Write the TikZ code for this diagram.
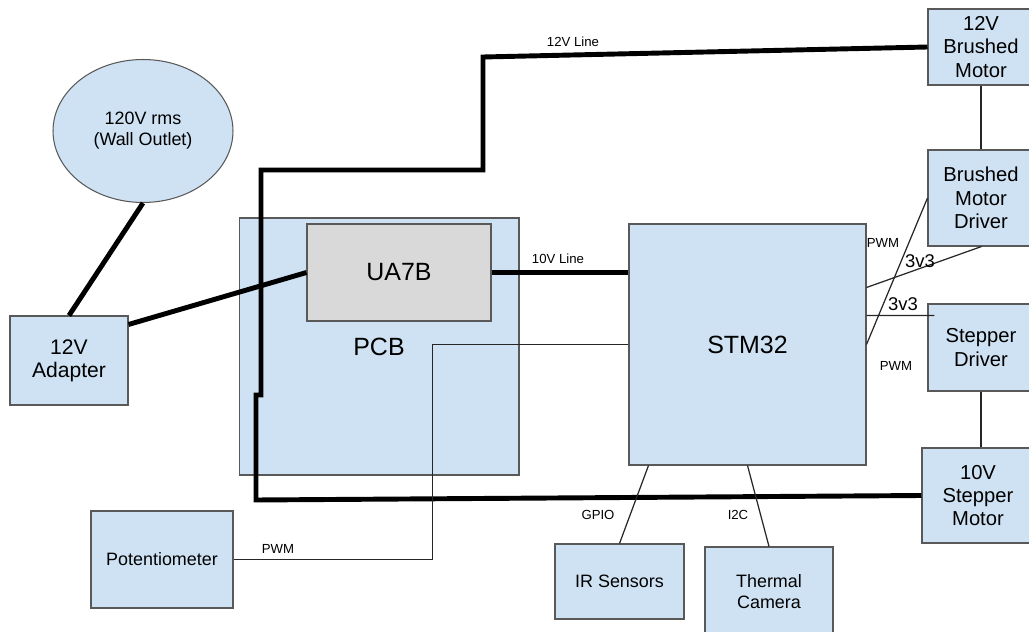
\documentclass[tikz,border=0pt]{standalone}
\usepackage{fontspec}
\setmainfont{Liberation Sans}
\usetikzlibrary{shapes.geometric,calc}
\definecolor{boxblue}{RGB}{207,226,243}
\definecolor{chipgray}{RGB}{217,217,217}
\definecolor{edgegray}{RGB}{89,89,89}

\begin{document}
\begin{tikzpicture}[x=0.02cm,y=-0.02cm,
  blk/.style={draw=edgegray,fill=boxblue,line width=0.6pt,align=center,inner sep=0pt},
  power/.style={line width=2.8pt},
  sig/.style={line width=0.7pt,black!85},
  tag/.style={font=\fontsize{7.5}{9}\selectfont},
  big/.style={font=\fontsize{14.2}{17}\selectfont},
  mid/.style={font=\fontsize{11.5}{13.3}\selectfont},
  small/.style={font=\fontsize{10.2}{12}\selectfont}]
  \useasboundingbox (0,0) rectangle (1029,632);
  \clip (0,0) rectangle (1029,632);
  % Power supply side
  \node[blk,ellipse,small,minimum width=3.6cm,minimum height=2.86cm] (outlet) at (143,131) {120V rms\\(Wall Outlet)};
  \node[blk,font=\fontsize{12}{13}\selectfont,minimum width=2.36cm,minimum height=1.78cm] (adapter) at (69,360.5) {12V\\Adapter};
  \node[blk,big,minimum width=5.6cm,minimum height=5.14cm] (pcb) at (379,346.5) {PCB};
  \node[blk,big,fill=chipgray,minimum width=3.68cm,minimum height=1.94cm] (ua7b) at (399,272.5) {UA7B};
  % Controller and peripherals
  \node[blk,big,minimum width=4.74cm,minimum height=4.82cm] (stm) at (747.5,344.5) {STM32};
  \node[blk,small,minimum width=2.84cm,minimum height=1.94cm] (pot) at (162,559.5) {Potentiometer};
  \node[blk,small,minimum width=2.58cm,minimum height=1.5cm] (ir) at (619.5,581.5) {IR Sensors};
  \node[blk,small,minimum width=2.56cm,minimum height=1.8cm] (cam) at (769,592) {Thermal\\Camera};
  % Motor column
  \node[blk,mid,minimum width=2.12cm,minimum height=1.52cm] (bmotor) at (981,47) {12V\\Brushed\\Motor};
  \node[blk,mid,minimum width=2.12cm,minimum height=1.92cm] (bdriver) at (981,198) {Brushed\\Motor\\Driver};
  \node[blk,mid,minimum width=2.12cm,minimum height=1.74cm] (sdriver) at (981,347.5) {Stepper\\Driver};
  \node[blk,mid,minimum width=2.24cm,minimum height=1.9cm] (smotor) at (978,495.5) {10V\\Stepper\\Motor};
  % Power lines
  \draw[power] (outlet.south) -- (adapter.north);
  \draw[power] ($(adapter.north east)+(0,9)$) -- (ua7b.west);
  \draw[power] (bmotor.west) -- (483,57) -- (483,170) -- (261,170) -- (261,395)
    -- (256,395) -- (256,500) -- (smotor.west);
  \draw[power] (ua7b.east) -- (ua7b.east -| stm.west);
  % Signal lines
  \draw[sig] (stm.west) -| ($(pot.east)+(199,0)$) -- (pot.east);
  \draw[sig] ($(stm.south west)+(20,0)$) -- (ir.north);
  \draw[sig] ($(stm.south west)+(119,0)$) -- (cam.north);
  \draw[sig] ($(stm.north east)+(0,64)$) -- ($(bdriver.south west)+(54,0)$);
  \draw[sig] (stm.east) -- (bdriver.west);
  \draw[sig] ($(stm.north east)+(0,92)$) -- ($(sdriver.north west)+(7,12)$);
  \draw[sig] ($(stm.east)+(0,1.5)$) -- ($(stm.east)+(0,1.5)$ -| sdriver.west);
  \draw[sig] (bmotor.south) -- (bdriver.north);
  \draw[sig] (sdriver.south) -- (sdriver.south |- smotor.north);
  % Labels
  \node[tag] (l12v) at (573,42) {12V Line};
  \node[tag] (l10v) at (558,259) {10V Line};
  \node[tag] (lpot) at (278,549) {PWM};
  \node[tag] (lgpio) at (598,515) {GPIO};
  \node[tag] (li2c) at (738,515) {I2C};
  \node[tag] (lpwma) at (883,243) {PWM};
  \node[tag] (lpwmb) at (896,366) {PWM};
  \node[font=\fontsize{10.5}{12}\selectfont] (lva) at (920,261) {3v3};
  \node[font=\fontsize{10.5}{12}\selectfont] (lvb) at (903,304) {3v3};
\end{tikzpicture}
\end{document}
